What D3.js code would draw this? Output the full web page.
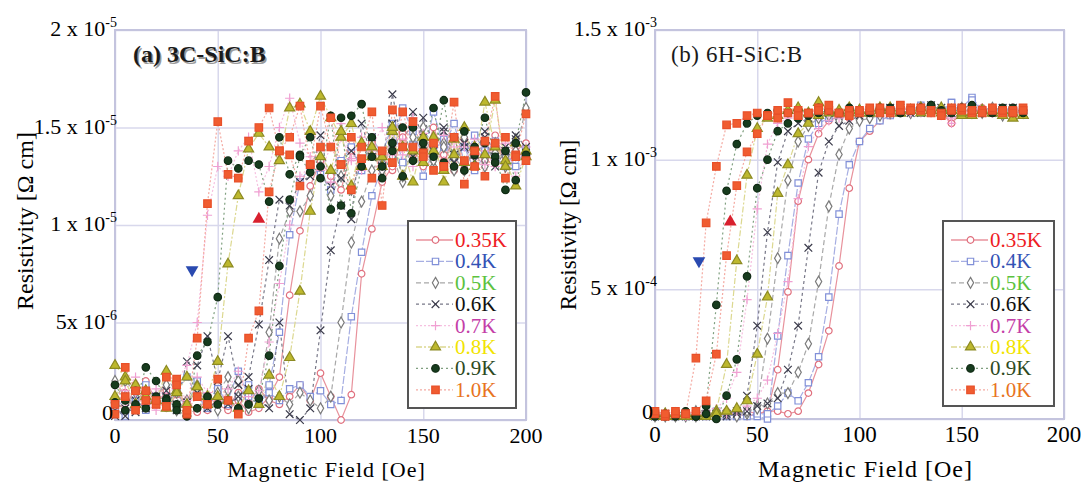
<!DOCTYPE html>
<html>
<head>
<meta charset="utf-8">
<script src="https://cdn.jsdelivr.net/npm/d3@7"></script>
<style>
  body { margin: 0; background: #fff; }
  svg { font-family: "Liberation Serif", "Times New Roman", serif; }
</style>
</head>
<body>
<svg id="chart" width="1086" height="482"></svg>
<script>
// ---- data: field sweeps (Oe) ----
var field3C = [0,5,10,15,20,25,30,35,40,45,50,55,60,65,70,75,80,85,90,95,100,105,110,115,120,125,130,135,140,145,150,155,160,165,170,175,180,185,190,195,200];
var field6H = [0,5,10,15,20,25,30,35,40,45,50,55,60,65,70,75,80,85,90,95,100,105,110,115,120,125,130,135,140,145,150,155,160,165,170,175,180];

var temps = ["0.35K", "0.4K", "0.5K", "0.6K", "0.7K", "0.8K", "0.9K", "1.0K"];

// (a) 3C-SiC:B resistivity, units of 1e-5 ohm cm; a = low-field sweep, b = high-field sweep
var rho3C_035a = [0.10,0.05,0.18,0.12,0.08,0.15,0.06,0.10,0.04,0.12, 0.08,0.05,0.10,0.04,0.06,0.12,0.22,0.64,0.97,1.20, 1.33,1.25,1.18,1.38,1.30,1.42,1.35,1.28,1.47,1.36, 1.30,1.40,1.33,1.45,1.29,1.38,1.34,1.42,1.31,1.37, 1.35];
var rho3C_035b = [0.08,0.14,0.05,0.20,0.10,0.06,0.13,0.09,0.15,0.05, 0.11,0.07,0.14,0.09,0.16,0.10,0.08,0.12,0.18,0.10, 0.24,0.12,0.00,0.13,0.75,0.98,1.22,1.30,1.45,1.38, 1.32,1.50,1.36,1.28,1.44,1.40,1.33,1.46,1.30,1.38, 1.42];
var rho3C_04a = [0.04,0.12,0.06,0.18,0.10,0.08,0.15,0.22,0.12,0.06, 0.15,0.10,0.25,0.12,0.08,0.18,0.45,0.95,1.22,1.30, 1.26,1.18,1.33,1.40,1.28,1.45,1.36,1.52,1.32,1.41, 1.25,1.38,1.44,1.35,1.40,1.28,1.36,1.43,1.37,1.30, 1.39];
var rho3C_04b = [0.06,0.02,0.10,0.05,0.12,0.08,0.14,0.06,0.20,0.10, 0.16,0.08,0.12,0.18,0.09,0.14,0.10,0.16,0.18,0.12, 0.15,0.08,0.10,0.53,0.86,1.15,1.30,1.42,1.60,1.48, 1.35,1.58,1.40,1.52,1.32,1.46,1.38,1.35,1.30,1.42, 1.38];
var rho3C_05a = [0.20,0.12,0.08,0.15,0.10,0.22,0.14,0.06,0.18,0.10, 0.05,0.15,0.20,0.08,0.12,0.45,0.93,1.07,1.07,1.15, 1.30,1.15,1.25,1.18,1.32,1.40,1.28,1.35,1.22,1.45, 1.38,1.30,1.42,1.35,1.28,1.40,1.33,1.37,1.30,1.44, 1.36];
var rho3C_05b = [0.10,0.20,0.14,0.08,0.12,0.18,0.05,0.10,0.16,0.08, 0.14,0.22,0.12,0.06,0.15,0.10,0.12,0.08,0.14,0.10, 0.06,0.12,0.50,0.91,1.12,1.28,1.35,1.42,1.25,1.38, 1.50,1.33,1.40,1.28,1.45,1.36,1.30,1.42,1.35,1.38, 1.60];
var rho3C_06a = [0.05,0.02,0.10,0.06,0.12,0.15,0.08,0.30,0.28,0.43, 0.20,0.43,0.18,0.22,0.49,0.82,1.13,1.10,1.22,1.25, 1.46,1.20,1.24,1.38,1.32,1.45,1.30,1.52,1.40,1.35, 1.55,1.42,1.48,1.36,1.40,1.33,1.45,1.30,1.38,1.46, 1.40];
var rho3C_06b = [0.02,0.06,0.04,0.10,0.08,0.12,0.05,0.09,0.14,0.06, 0.10,0.08,0.12,0.16,0.10,0.06,0.50,0.03,0.00,0.06, 0.46,0.87,1.10,1.03,1.52,1.35,1.30,1.67,1.40,1.58, 1.45,1.38,1.50,1.32,1.42,1.36,1.48,1.35,1.40,1.44, 1.37];
var rho3C_07a = [0.18,0.15,0.22,0.10,0.16,0.12,0.20,0.28,0.50,1.05, 1.30,1.25,1.38,1.45,1.17,1.30,1.50,1.65,1.42,1.35, 1.28,1.40,1.52,1.33,1.45,1.38,1.30,1.48,1.36,1.55, 1.42,1.35,1.46,1.40,1.32,1.44,1.38,1.30,1.42,1.25, 1.36];
var rho3C_07b = [0.10,0.06,0.14,0.08,0.05,0.12,0.18,0.10,0.22,0.14, 0.08,0.16,0.25,0.12,0.15,0.40,0.70,1.00,1.25,1.30, 1.38,1.22,1.45,1.34,1.28,1.40,1.50,1.36,1.44,1.30, 1.47,1.38,1.33,1.45,1.40,1.36,1.31,1.42,1.38,1.35, 1.40];
var rho3C_08a = [0.28,0.22,0.18,0.12,0.10,0.25,0.15,0.08,0.17,0.12, 0.30,0.80,1.15,1.39,1.47,1.40,1.33,1.60,1.62,1.48, 1.66,1.55,1.45,1.52,1.30,1.40,1.35,1.48,1.25,1.38, 1.32,1.45,1.22,1.36,1.50,1.30,1.63,1.40,1.33,1.20, 1.35];
var rho3C_08b = [0.12,0.20,0.08,0.15,0.10,0.06,0.14,0.22,0.17,0.08, 0.12,0.10,0.06,0.15,0.08,0.23,0.12,0.32,0.66,1.07, 1.35,1.28,1.48,1.20,1.42,1.35,1.30,1.50,1.40,1.22, 1.45,1.38,1.28,1.44,1.32,1.40,1.36,1.64,1.30,1.42, 1.38];
var rho3C_09a = [0.18,0.10,0.08,0.27,0.20,0.11,0.08,0.02,0.33,0.40, 0.63,1.33,1.29,1.33,1.31,1.12,1.45,1.26,1.36,1.45, 1.24,1.56,1.10,1.56,1.62,1.35,1.30,1.42,1.25,1.50, 1.38,1.60,1.32,1.45,1.28,1.40,1.55,1.35,1.18,1.42, 1.68];
var rho3C_09b = [0.09,0.05,0.15,0.06,0.12,0.10,0.05,0.02,0.06,0.12, 0.08,0.10,0.06,0.08,0.11,0.33,0.79,1.13,1.35,1.27, 1.30,1.08,1.55,1.06,1.30,1.45,1.24,1.38,1.50,1.33, 1.42,1.35,1.64,1.30,1.48,1.36,1.42,1.32,1.38,1.23, 1.36];
var rho3C_10a = [0.03,0.27,0.15,0.10,0.08,0.22,0.21,0.03,0.42,1.11, 1.53,1.26,1.24,1.43,1.50,1.60,1.38,1.45,1.61,1.31, 1.61,1.40,1.31,1.18,1.40,1.58,1.10,1.59,1.40,1.53, 1.37,1.42,1.30,1.63,1.21,1.30,1.43,1.66,1.24,1.36, 1.57];
var rho3C_10b = [0.08,0.12,0.05,0.15,0.10,0.07,0.18,0.05,0.12,0.08, 0.21,0.10,0.03,0.42,0.56,1.17,1.38,1.36,1.20,1.31, 1.40,1.55,1.31,1.45,1.34,1.24,1.38,1.32,1.58,1.40, 1.35,1.28,1.30,1.45,1.33,1.38,1.25,1.42,1.45,1.35, 1.33];

// (b) 6H-SiC:B resistivity, units of 1e-3 ohm cm
var rho6H_035a = [0.02,0.01,0.02,0.03,0.02,0.01,0.02,0.03,0.02,0.01, 0.02,0.03,0.19,0.49,0.84,1.00,1.10,1.15,1.17,1.16, 1.18,1.19,1.18,1.20,1.19,1.18,1.19,1.20,1.18,1.14, 1.19,1.18,1.20,1.19,1.18,1.19,1.18];
var rho6H_035b = [0.03,0.02,0.01,0.02,0.03,0.02,0.01,0.02,0.02,0.03, 0.02,0.03,0.03,0.02,0.03,0.10,0.21,0.34,0.59,0.89, 1.07,1.11,1.15,1.17,1.18,1.19,1.18,1.20,1.19,1.14, 1.18,1.20,1.19,1.18,1.19,1.20,1.18];
var rho6H_04a = [0.01,0.02,0.01,0.02,0.01,0.02,0.03,0.02,0.01,0.02, 0.01,0.00,0.32,0.63,0.91,1.08,1.14,1.16,1.18,1.17, 1.19,1.18,1.19,1.20,1.18,1.19,1.21,1.19,1.18,1.22, 1.20,1.24,1.19,1.18,1.20,1.19,1.18];
var rho6H_04b = [0.02,0.01,0.02,0.01,0.02,0.01,0.02,0.01,0.02,0.01, 0.02,0.02,0.05,0.10,0.07,0.14,0.24,0.47,0.79,0.98, 1.07,1.12,1.15,1.17,1.18,1.19,1.18,1.20,1.19,1.22, 1.18,1.23,1.19,1.20,1.18,1.19,1.20];
var rho6H_05a = [0.02,0.01,0.02,0.01,0.03,0.02,0.01,0.02,0.03,0.02, 0.05,0.31,0.62,0.92,1.07,1.13,1.16,1.17,1.15,1.18, 1.17,1.19,1.18,1.19,1.20,1.18,1.19,1.20,1.19,1.18, 1.19,1.20,1.18,1.19,1.17,1.18,1.19];
var rho6H_05b = [0.01,0.02,0.01,0.02,0.01,0.02,0.01,0.02,0.01,0.03, 0.04,0.06,0.10,0.10,0.18,0.29,0.53,0.82,1.02,1.12, 1.15,1.16,1.17,1.18,1.19,1.18,1.20,1.19,1.18,1.19, 1.20,1.18,1.19,1.20,1.18,1.19,1.18];
var rho6H_06a = [0.01,0.02,0.01,0.02,0.01,0.02,0.01,0.02,0.03,0.09, 0.36,0.72,0.99,1.11,1.14,1.16,1.17,1.18,1.17,1.19, 1.18,1.19,1.18,1.20,1.19,1.18,1.20,1.21,1.19,1.18, 1.20,1.19,1.18,1.19,1.20,1.18,1.19];
var rho6H_06b = [0.02,0.01,0.02,0.01,0.02,0.01,0.02,0.01,0.02,0.03, 0.05,0.06,0.08,0.19,0.36,0.66,0.95,1.07,1.13,1.15, 1.17,1.18,1.19,1.18,1.20,1.19,1.18,1.19,1.20,1.19, 1.18,1.20,1.19,1.18,1.19,1.20,1.18];
var rho6H_07a = [0.02,0.01,0.02,0.01,0.02,0.03,0.04,0.08,0.18,0.46, 0.81,1.06,1.14,1.16,1.17,1.18,1.17,1.19,1.18,1.19, 1.20,1.18,1.19,1.18,1.20,1.19,1.18,1.19,1.17,1.14, 1.18,1.19,1.20,1.18,1.19,1.18,1.19];
var rho6H_07b = [0.01,0.02,0.01,0.02,0.01,0.02,0.01,0.02,0.03,0.05, 0.08,0.15,0.33,0.53,0.85,1.05,1.12,1.15,1.16,1.17, 1.18,1.19,1.18,1.19,1.20,1.18,1.19,1.18,1.19,1.16, 1.18,1.19,1.20,1.18,1.19,1.20,1.18];
var rho6H_08a = [0.01,0.02,0.01,0.02,0.01,0.02,0.03,0.21,0.61,0.94, 1.12,1.16,1.17,1.19,1.20,1.18,1.22,1.19,1.18,1.20, 1.19,1.18,1.19,1.20,1.18,1.19,1.20,1.19,1.18,1.19, 1.17,1.18,1.19,1.18,1.17,1.16,1.17];
var rho6H_08b = [0.02,0.01,0.02,0.01,0.02,0.01,0.02,0.03,0.04,0.07, 0.25,0.47,0.87,0.98,1.10,1.14,1.17,1.18,1.19,1.18, 1.19,1.18,1.20,1.19,1.18,1.19,1.18,1.19,1.20,1.19, 1.18,1.17,1.19,1.18,1.19,1.18,1.17];
var rho6H_09a = [0.02,0.01,0.02,0.03,0.01,0.05,0.44,0.88,1.06,1.14, 1.17,1.18,1.19,1.18,1.19,1.18,1.20,1.19,1.18,1.20, 1.19,1.18,1.19,1.20,1.18,1.19,1.20,1.21,1.19,1.18, 1.20,1.19,1.18,1.19,1.20,1.18,1.19];
var rho6H_09b = [0.01,0.02,0.01,0.02,0.01,0.02,0.00,0.09,0.23,0.55, 0.89,1.00,1.11,1.14,1.16,1.17,1.18,1.19,1.18,1.19, 1.18,1.19,1.20,1.19,1.18,1.19,1.20,1.21,1.18,1.19, 1.20,1.21,1.19,1.18,1.19,1.20,1.18];
var rho6H_10a = [0.02,0.01,0.02,0.02,0.235,0.756,0.974,1.134,1.14,1.17, 1.18,1.17,1.19,1.18,1.19,1.18,1.20,1.19,1.18,1.19, 1.18,1.19,1.20,1.18,1.19,1.20,1.19,1.19,1.18,1.20, 1.19,1.18,1.19,1.19,1.18,1.19,1.20];
var rho6H_10b = [0.03,0.02,0.03,0.02,0.03,0.07,0.25,0.63,0.90,1.03, 1.10,1.17,1.16,1.22,1.17,1.18,1.19,1.21,1.18,1.17, 1.19,1.20,1.18,1.19,1.21,1.19,1.20,1.18,1.17,1.19, 1.20,1.19,1.18,1.20,1.19,1.18,1.19];

// sweep-direction markers (down = decreasing field, up = increasing field)
var arrowField3C = [37.5, 70];
var arrowRho3C = [0.77, 1.03];
var arrowField6H = [21.5, 36.8];
var arrowRho6H = [0.61, 0.76];

// tick labels
var xTicks = [0, 50, 100, 150, 200];
var yTicks3C = [0, 0.5, 1, 1.5, 2];
var yLabels3C = [["0", ""], ["5x 10", "-6"], ["1 x 10", "-5"], ["1.5 x 10", "-5"], ["2 x 10", "-5"]];
var yTicks6H = [0, 0.5, 1, 1.5];
var yLabels6H = [["0", ""], ["5 x 10", "-4"], ["1 x 10", "-3"], ["1.5 x 10", "-3"]];

// ---- styles ----
var styles = [
  { line: "#e8929c", mk: "#e0707e", fill: "#fff", sym: d3.symbolCircle, size: 34, dash: null, text: "#ee1c24" },
  { line: "#a6aee2", mk: "#8190d8", fill: "#fff", sym: d3.symbolSquare, size: 40, dash: "8,2", text: "#3352b5" },
  { line: "#a8a8a8", mk: "#7a7a7a", fill: "#fff", sym: d3.symbolDiamond, size: 34, dash: "5,3", text: "#5cc23e" },
  { line: "#787888", mk: "#3a3a4a", fill: "none", sym: d3.symbolX || d3.symbolCross, size: 40, dash: "3,3", text: "#111111" },
  { line: "#f6c0e0", mk: "#f0a0d2", fill: "none", sym: d3.symbolPlus || d3.symbolCross, size: 30, dash: "2,2", text: "#c43ea8" },
  { line: "#dcd890", mk: "#8c8a22", fill: "#bdb82e", sym: d3.symbolTriangle, size: 44, dash: "6,2,2,2", text: "#f2e400" },
  { line: "#80a080", mk: "#102a14", fill: "#173c1e", sym: d3.symbolCircle, size: 44, dash: "2,3", text: "#2d4a22" },
  { line: "#f4aaa2", mk: "#e8502a", fill: "#f05c30", sym: d3.symbolSquare, size: 56, dash: "2,2", text: "#e8741e" }
];

var svg = d3.select("#chart");

function drawPanel(p) {
  var g = svg.append("g");
  var x = d3.scaleLinear().domain([0, 200]).range([p.left, p.right]);
  var y = d3.scaleLinear().domain([0, p.yMax]).range([p.bottom, p.top]);

  // grid lines
  g.append("g")
    .attr("transform", "translate(0," + p.bottom + ")")
    .call(d3.axisBottom(x).tickValues(xTicks).tickSize(-(p.bottom - p.top)).tickFormat(""))
    .call(function(s) { s.select(".domain").remove(); })
    .selectAll("line").attr("stroke", "#d8d8ec").attr("stroke-width", 1.5);
  g.append("g")
    .attr("transform", "translate(" + p.left + ",0)")
    .call(d3.axisLeft(y).tickValues(p.yTicks).tickSize(-(p.right - p.left)).tickFormat(""))
    .call(function(s) { s.select(".domain").remove(); })
    .selectAll("line").attr("stroke", "#d8d8ec").attr("stroke-width", 1.5);

  g.append("rect")
    .attr("x", p.left).attr("y", p.top)
    .attr("width", p.right - p.left).attr("height", p.bottom - p.top)
    .attr("fill", "none").attr("stroke", "#c4c4de").attr("stroke-width", 2);

  var line = d3.line()
    .x(function(d) { return x(d[0]); })
    .y(function(d) { return y(d[1]); });

  var plot = g.append("g");

  // lines
  p.series.forEach(function(s, i) {
    var st = styles[i];
    [s.a, s.b].forEach(function(vals) {
      var pts = vals.map(function(v, k) { return [p.field[k], v]; });
      plot.append("path").datum(pts)
        .attr("d", line)
        .attr("fill", "none")
        .attr("stroke", st.line)
        .attr("stroke-width", 1.2)
        .attr("stroke-dasharray", st.dash);
    });
  });

  // markers
  p.series.forEach(function(s, i) {
    var st = styles[i];
    var pts = [];
    [s.a, s.b].forEach(function(vals) {
      vals.forEach(function(v, k) { pts.push([p.field[k], v]); });
    });
    plot.selectAll(null).data(pts).enter().append("path")
      .attr("transform", function(d) { return "translate(" + x(d[0]) + "," + y(d[1]) + ")"; })
      .attr("d", d3.symbol().type(st.sym).size(st.size))
      .attr("fill", st.fill)
      .attr("stroke", st.mk)
      .attr("stroke-width", 1.2);
  });

  // sweep direction triangles
  var tri = d3.symbol().type(d3.symbolTriangle).size(70);
  plot.append("path")
    .attr("transform", "translate(" + x(p.arrowField[0]) + "," + y(p.arrowRho[0]) + ") rotate(180)")
    .attr("d", tri).attr("fill", "#2a4ab0");
  plot.append("path")
    .attr("transform", "translate(" + x(p.arrowField[1]) + "," + y(p.arrowRho[1]) + ")")
    .attr("d", tri).attr("fill", "#d8202e");

  // x tick labels
  g.selectAll(".xt").data(xTicks).enter().append("text")
    .attr("x", function(d) { return x(d); })
    .attr("y", p.bottom + 23)
    .attr("text-anchor", "middle")
    .style("font-size", p.xTickSize + "px")
    .text(function(d) { return d; });

  // y tick labels with superscript exponent (drawn over the data, as in the original)
  var yt = g.selectAll(".yt").data(p.yTicks).enter().append("text")
    .attr("x", function(d) { return d === 0 ? p.left - 2 : p.left + 2; })
    .attr("y", function(d) { return y(d) + (d === 0 ? 0 : 6); })
    .attr("text-anchor", "end")
    .style("font-size", "22px");
  yt.append("tspan").text(function(d, i) { return p.yLabels[i][0]; });
  yt.append("tspan")
    .attr("dy", -9)
    .style("font-size", "14px")
    .text(function(d, i) { return p.yLabels[i][1]; });

  // axis titles
  g.append("text")
    .attr("x", (p.left + p.right) / 2 + 6)
    .attr("y", 477)
    .attr("text-anchor", "middle")
    .style("font-size", p.xTitleSize + "px")
    .style("letter-spacing", "1px")
    .text("Magnetic Field [Oe]");
  g.append("text")
    .attr("transform", "translate(" + p.yTitleX + "," + p.yTitleY + ") rotate(-90)")
    .attr("text-anchor", "middle")
    .style("font-size", p.yTitleSize + "px")
    .text("Resistivity [\u03a9 cm]");

  // panel title
  if (p.bold) {
    g.append("text")
      .attr("x", p.titleX + 1.5).attr("y", 62 + 1.5)
      .style("font-size", "24px").style("font-weight", "bold")
      .attr("fill", "#9a9a9a")
      .text(p.title);
  }
  g.append("text")
    .attr("x", p.titleX).attr("y", 62)
    .style("font-size", p.bold ? "24px" : "23px")
    .style("font-weight", p.bold ? "bold" : "normal")
    .style("letter-spacing", p.bold ? "0px" : "0.6px")
    .attr("fill", "#1a1a1a")
    .text(p.title);

  // legend
  var lg = g.append("g").attr("transform", "translate(" + p.legX + "," + p.legY + ")");
  lg.append("rect")
    .attr("width", p.legW).attr("height", p.legH)
    .attr("fill", "#fff").attr("stroke", "#555").attr("stroke-width", 2);
  var item = lg.selectAll(".item").data(temps).enter().append("g")
    .attr("transform", function(d, i) { return "translate(0," + (19 + i * 21.4) + ")"; });
  item.append("line")
    .attr("x1", 8).attr("x2", p.legTextX - 2)
    .attr("stroke", function(d, i) { return styles[i].line; })
    .attr("stroke-width", 1.3)
    .attr("stroke-dasharray", function(d, i) { return styles[i].dash; });
  item.append("path")
    .attr("transform", "translate(" + ((8 + p.legTextX) / 2) + ",0)")
    .attr("d", function(d, i) { return d3.symbol().type(styles[i].sym).size(styles[i].size)(); })
    .attr("fill", function(d, i) { return styles[i].fill; })
    .attr("stroke", function(d, i) { return styles[i].mk; })
    .attr("stroke-width", 1.2);
  item.append("text")
    .attr("x", p.legTextX)
    .attr("y", 7)
    .style("font-size", "21px")
    .attr("fill", function(d, i) { return styles[i].text; })
    .text(function(d) { return d; });
}

drawPanel({
  left: 115, right: 526, top: 30, bottom: 420, yMax: 2,
  field: field3C,
  series: [
    { a: rho3C_035a, b: rho3C_035b }, { a: rho3C_04a, b: rho3C_04b },
    { a: rho3C_05a, b: rho3C_05b }, { a: rho3C_06a, b: rho3C_06b },
    { a: rho3C_07a, b: rho3C_07b }, { a: rho3C_08a, b: rho3C_08b },
    { a: rho3C_09a, b: rho3C_09b }, { a: rho3C_10a, b: rho3C_10b }
  ],
  arrowField: arrowField3C, arrowRho: arrowRho3C,
  yTicks: yTicks3C, yLabels: yLabels3C,
  xTickSize: 22, xTitleSize: 22, yTitleSize: 24,
  yTitleX: 33, yTitleY: 221,
  title: "(a) 3C-SiC:B", titleX: 133, bold: true,
  legX: 408, legY: 221, legW: 108, legH: 187, legTextX: 47
});

drawPanel({
  left: 655, right: 1064, top: 30, bottom: 419, yMax: 1.5,
  field: field6H,
  series: [
    { a: rho6H_035a, b: rho6H_035b }, { a: rho6H_04a, b: rho6H_04b },
    { a: rho6H_05a, b: rho6H_05b }, { a: rho6H_06a, b: rho6H_06b },
    { a: rho6H_07a, b: rho6H_07b }, { a: rho6H_08a, b: rho6H_08b },
    { a: rho6H_09a, b: rho6H_09b }, { a: rho6H_10a, b: rho6H_10b }
  ],
  arrowField: arrowField6H, arrowRho: arrowRho6H,
  yTicks: yTicks6H, yLabels: yLabels6H,
  xTickSize: 23, xTitleSize: 24, yTitleSize: 23,
  yTitleX: 576, yTitleY: 225,
  title: "(b) 6H-SiC:B", titleX: 671, bold: false,
  legX: 943, legY: 221, legW: 111, legH: 185, legTextX: 47
});
</script>
</body>
</html>
